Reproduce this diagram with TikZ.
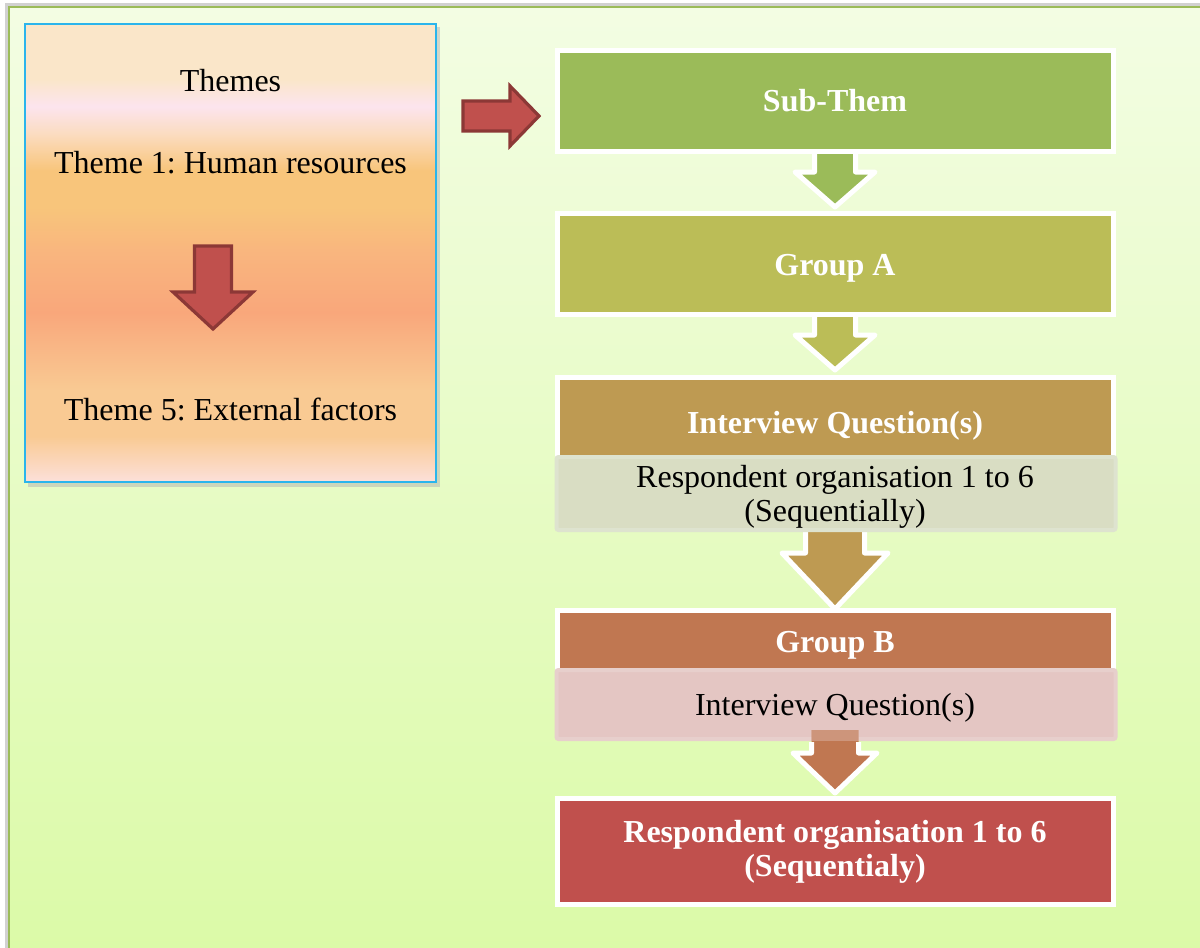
\documentclass[tikz,border=0pt]{standalone}
\usepackage{fontspec}
\setmainfont{Liberation Serif}
\usetikzlibrary{calc}
\definecolor{frameline}{HTML}{9BBB59}
\definecolor{bgtop}{HTML}{F3FDE3}
\definecolor{bgbot}{HTML}{DBFAA7}
\definecolor{thA}{HTML}{FCE0DA}
\definecolor{thB}{HTML}{F9CA93}
\definecolor{thC}{HTML}{F9A77B}
\definecolor{thD}{HTML}{F9B57E}
\definecolor{thE}{HTML}{F8C57B}
\definecolor{thF}{HTML}{FBDCC0}
\definecolor{thG}{HTML}{FCE4EE}
\definecolor{thH}{HTML}{FAE6C9}
\definecolor{themeline}{HTML}{2AB5EC}
\definecolor{cSub}{HTML}{9BBB59}
\definecolor{cGA}{HTML}{BBBD57}
\definecolor{cIQ}{HTML}{BE9A52}
\definecolor{cGB}{HTML}{C07751}
\definecolor{cFin}{HTML}{C0504D}
\definecolor{redfill}{HTML}{C0504D}
\definecolor{redline}{HTML}{8C3836}
\definecolor{lightfill}{HTML}{D9DDC3}
\definecolor{lightrim}{HTML}{DEE3CF}
\definecolor{pinkfill}{HTML}{E4C6C3}
\definecolor{pinkrim}{HTML}{E7CFCC}
\pgfdeclareverticalshading{themesh}{100bp}{color(0bp)=(thA); color(25bp)=(thA); color(30bp)=(thB); color(35bp)=(thB); color(43.5bp)=(thC); color(50bp)=(thD); color(55bp)=(thE); color(59bp)=(thE); color(63bp)=(thF); color(66bp)=(thG); color(69bp)=(thH); color(75bp)=(thH); color(100bp)=(thH)}
\frenchspacing
\begin{document}
\begin{tikzpicture}[x=0.75pt,y=-0.75pt,
  reg/.style={font=\fontsize{24}{25.5}\selectfont\frenchspacing, text=black, inner sep=0pt},
  bld/.style={font=\fontsize{24}{25.5}\selectfont\bfseries\frenchspacing, text=white, inner sep=0pt},
  flowbox/.style={draw=white, line width=3.75pt, minimum width=417pt, inner sep=0pt},
  overbox/.style={line width=3pt, rounded corners=1.5pt, minimum width=419.25pt, inner sep=0pt},
  whitearrow/.style={draw=white, line width=3.75pt, line join=round},
  redarrow/.style={draw=redline, fill=redfill, line width=2.4pt, line join=miter}]
\useasboundingbox (0,0) rectangle (1200,947);
\clip (0,0) rectangle (1200,947);
\fill[white] (0,0) rectangle (1200,947);
% outer frame
\fill[black!18] (5,3) rectangle (1210,960);
\shade[top color=bgtop, bottom color=bgbot, draw=frameline, line width=1.5pt] (9,7) rectangle (1210,960);

% themes box
\fill[black!30, opacity=0.5] (28,27) rectangle (440,487);
\node[draw=themeline, line width=1.5pt, shading=themesh, minimum width=308.25pt, minimum height=343.5pt, inner sep=0pt] (themes) at (230.5,253) {};
\node[reg, anchor=base] (t0) at (230.5,91) {Themes};
\node[reg, anchor=base] (t1) at (230.5,173) {Theme 1: Human resources};
\node[reg, anchor=base] (t5) at (230.5,420) {Theme 5: External factors};
\draw[redarrow] (194.5,246) -- (231.5,246) -- (231.5,292) -- (253,292) -- (213,329) -- (173,292) -- (194.5,292) -- cycle;

% right arrow
\draw[redarrow] (463,101) -- (510,101) -- (510,86) -- (539,116) -- (510,146) -- (510,131) -- (463,131) -- cycle;

% down arrows (drawn below boxes)
\draw[whitearrow, fill=cSub] (814.5,140) -- (855.5,140) -- (855.5,172) -- (875,172) -- (835,207) -- (795,172) -- (814.5,172) -- cycle;
\draw[whitearrow, fill=cGA] (814.5,303) -- (855.5,303) -- (855.5,335) -- (875,335) -- (835,370) -- (795,335) -- (814.5,335) -- cycle;
\draw[whitearrow, fill=cIQ] (805.5,520) -- (864.5,520) -- (864.5,553) -- (888,553) -- (835,609) -- (782,553) -- (805.5,553) -- cycle;

% boxes
\node[flowbox, fill=cSub, minimum height=75.75pt] (sub) at (835,101) {};
\node[bld, anchor=base] (subt) at (835,111.5) {Sub-Them};
\node[flowbox, fill=cGA, minimum height=75.75pt] (ga) at (835,264) {};
\node[bld, anchor=base] (gat) at (835,275.5) {Group A};
\node[flowbox, fill=cIQ, minimum height=76.9pt] (iq) at (835,428.75) {};
\node[bld, anchor=base] (iqt) at (835,433.5) {Interview Question(s)};
\node[overbox, draw=lightrim, fill=lightfill, minimum height=54.75pt] (resp) at (836,493.5) {};
\node[reg, align=center] (respt) at (835,496.5) {Respondent organisation 1 to 6\\(Sequentially)};

\node[flowbox, fill=cGB, minimum height=76.1pt] (gb) at (835,661) {};
\node[bld, anchor=base] (gbt) at (835,652.5) {Group B};
\node[overbox, draw=pinkrim, fill=pinkfill, minimum height=51.75pt] (iqb) at (836,704.5) {};
\node[reg, anchor=base] (iqbt) at (835,715) {Interview Question(s)};

% last arrow: shaft shows through the rim of the pink box
\fill[cGB] (811.5,730) -- (858.5,730) -- (858.5,753) -- (877,753) -- (835,793) -- (793,753) -- (811.5,753) -- cycle;
\draw[whitearrow] (858.5,742) -- (858.5,753) -- (877,753) -- (835,793) -- (793,753) -- (811.5,753) -- (811.5,742);
\fill[pinkrim, opacity=0.35] (811.5,730) rectangle (858.5,741);

\node[flowbox, fill=cFin, minimum height=79.5pt] (fin) at (835,851) {};
\node[bld, align=center] (fint) at (835,851.5) {Respondent organisation 1 to 6\\(Sequentialy)};
\end{tikzpicture}
\end{document}
